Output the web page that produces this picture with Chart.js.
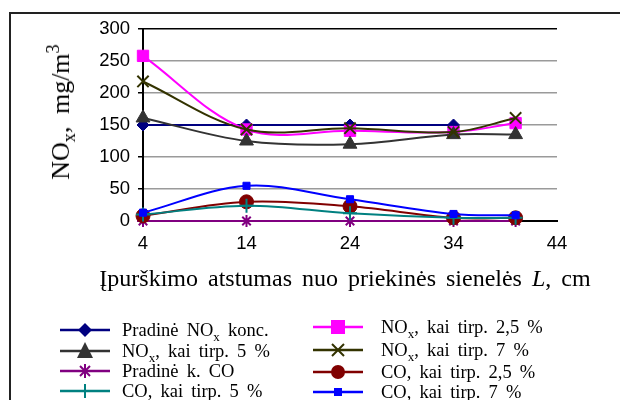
<!DOCTYPE html>
<html>
<head>
<meta charset="utf-8">
<script src="https://cdn.jsdelivr.net/npm/chart.js@4.4.0/dist/chart.umd.min.js"></script>
<style>
  body { margin: 0; background: #fff; width: 620px; height: 400px; overflow: hidden; position: relative; }
  #frame { position: absolute; left: 9px; top: 12px; width: 700px; height: 500px; border-left: 2px solid #222; border-top: 2px solid #222; }
  #wrap { position: absolute; left: 0; top: 0; width: 620px; height: 400px; }
  .serif { font-family: "Liberation Serif", "Times New Roman", serif; color: #000; }
  #ytitle { position: absolute; left: 61px; top: 112px; transform: translate(-50%, -50%) rotate(-90deg); font-size: 26px; white-space: nowrap; word-spacing: 6px; }
  #xtitle { position: absolute; left: 345px; top: 278px; transform: translate(-50%, -50%); font-size: 24px; white-space: nowrap; word-spacing: 4px; }
  .leg { position: absolute; font-size: 18.5px; white-space: nowrap; word-spacing: 3.5px; display: flex; align-items: center; }
  sub, sup { font-size: 70%; line-height: 0; }
</style>
</head>
<body>
<div id="frame"></div>
<div id="wrap"><canvas id="c"></canvas></div>
<div id="ytitle" class="serif">NO<sub>x</sub>,  mg/m<sup>3</sup></div>
<div id="xtitle" class="serif">Įpurškimo atstumas nuo priekinės sienelės <i>L</i>, cm</div>
<div id="legend"></div>
<script>
// distances, cm
const xs = [4, 14, 24, 34, 40];
const xsInitial = [4, 14, 24, 34];

// concentrations, mg/m3
const noxInitial = [150, 150, 150, 150];
const nox25 = [258, 143, 141, 139, 153];
const nox5 = [161, 125, 120, 135, 135];
const nox7 = [218, 143, 145, 139, 161];
const coInitial = [0, 0, 0, 0, 0];
const co25 = [8, 30, 23, 5, 5];
const co5 = [10, 24, 12, 5, 5];
const co7 = [13, 55, 34, 11, 9];

const labels = ['Pradinė NO<sub>x</sub> konc.', 'NO<sub>x</sub>, kai tirp. 2,5 %', 'NO<sub>x</sub>, kai tirp. 5 %',
  'NO<sub>x</sub>, kai tirp. 7 %', 'Pradinė k. CO', 'CO, kai tirp. 2,5 %', 'CO, kai tirp. 5 %', 'CO, kai tirp. 7 %'];

const series = [
  { x: xsInitial, y: noxInitial, color: '#000080', style: 'rectRot', r: 6 },
  { x: xs, y: nox25, color: '#FF00FF', style: 'rect', r: 8 },
  { x: xs, y: nox5, color: '#333333', style: 'triangle', r: 8 },
  { x: xs, y: nox7, color: '#333300', style: 'crossRot', r: 8 },
  { x: xs, y: coInitial, color: '#800080', style: 'star', r: 6 },
  { x: xs, y: co25, color: '#800000', style: 'circle', r: 7 },
  { x: xs, y: co5, color: '#008080', style: 'cross', r: 7 },
  { x: xs, y: co7, color: '#0000FF', style: 'rect', r: 5 }
];

const datasets = series.map((s, i) => ({
  label: labels[i],
  data: s.x.map((x, j) => ({ x: x, y: s.y[j] })),
  borderColor: s.color,
  backgroundColor: s.color,
  borderWidth: 2,
  pointStyle: s.style,
  pointRadius: s.r,
  pointBorderWidth: (s.style === 'cross' || s.style === 'crossRot' || s.style === 'star') ? 2 : 1,
  tension: 0.35,
  clip: false,
  order: 7 - i
}));

new Chart(document.getElementById('c'), {
  type: 'line',
  data: { datasets: datasets },
  options: {
    responsive: true,
    maintainAspectRatio: false,
    animation: false,
    layout: { padding: { left: 0, top: 29, right: 63, bottom: 134 } },
    plugins: { legend: { display: false }, tooltip: { enabled: false } },
    scales: {
      x: {
        type: 'linear',
        min: 4, max: 44,
        ticks: { stepSize: 10, padding: 12, color: '#000', font: { family: 'Liberation Sans, Arial', size: 18.5 } },
        grid: { drawOnChartArea: false, drawTicks: false },
        border: { color: '#000', width: 2 },
        afterFit: s => { s.height = 45; }
      },
      y: {
        min: 0, max: 300,
        ticks: { stepSize: 50, padding: 8, color: '#000', font: { family: 'Liberation Sans, Arial', size: 18.5 } },
        grid: {
          color: c => c.tick && c.tick.value === 300 ? '#000' : '#9a9a9a',
          lineWidth: 1.5,
          tickColor: '#000',
          tickLength: 5
        },
        border: { color: '#000', width: 2 },
        afterFit: s => { s.width = 143; }
      }
    }
  }
});

// legend (two columns, Excel style)
function marker(s) {
  const c = s.color, cx = 25, cy = 10;
  let m = '';
  if (s.style === 'rectRot') m = `<polygon points="${cx},${cy-7} ${cx+7},${cy} ${cx},${cy+7} ${cx-7},${cy}" fill="${c}"/>`;
  else if (s.style === 'rect') { const h = s.r === 8 ? 7 : 4; m = `<rect x="${cx-h}" y="${cy-h}" width="${2*h}" height="${2*h}" fill="${c}"/>`; }
  else if (s.style === 'triangle') m = `<polygon points="${cx},${cy-9} ${cx+8},${cy+7} ${cx-8},${cy+7}" fill="${c}"/>`;
  else if (s.style === 'crossRot') m = `<path d="M${cx-6} ${cy-6}L${cx+6} ${cy+6}M${cx+6} ${cy-6}L${cx-6} ${cy+6}" stroke="${c}" stroke-width="2"/>`;
  else if (s.style === 'star') m = `<path d="M${cx-5} ${cy-5}L${cx+5} ${cy+5}M${cx+5} ${cy-5}L${cx-5} ${cy+5}M${cx} ${cy-7}L${cx} ${cy+7}" stroke="${c}" stroke-width="2"/>`;
  else if (s.style === 'circle') m = `<circle cx="${cx}" cy="${cy}" r="7" fill="${c}"/>`;
  else if (s.style === 'cross') m = `<path d="M${cx} ${cy-7}L${cx} ${cy+7}" stroke="${c}" stroke-width="2"/>`;
  return `<svg width="50" height="20"><line x1="0" y1="${cy}" x2="50" y2="${cy}" stroke="${c}" stroke-width="2.5"/>${m}</svg>`;
}
const legendPos = [
  [60, 330], [313, 327], [60, 351], [313, 350], [60, 371], [313, 372], [60, 391], [313, 392]
];
document.getElementById('legend').innerHTML = series.map((s, i) => {
  const gap = i % 2 === 0 ? 12 : 18;
  return `<div class="leg serif" style="left:${legendPos[i][0]}px;top:${legendPos[i][1] - 10}px;height:20px">${marker(s)}<span style="margin-left:${gap}px">${labels[i]}</span></div>`;
}).join('');
</script>
</body>
</html>
